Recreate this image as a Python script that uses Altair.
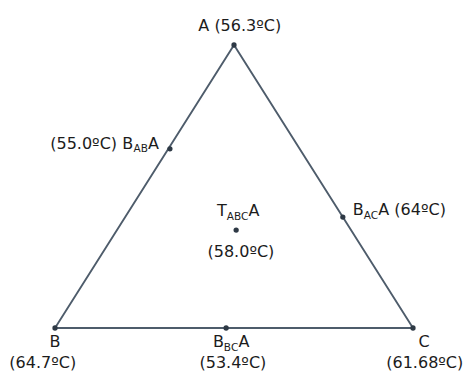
import altair as alt
import pandas as pd

# Diagram points in triangle coordinates: B=(0,0), C=(1,0), A=(0.5,1)
names = ["A", "B", "C", "B_AB", "B_AC", "B_BC", "T_ABC"]
u_pos = [0.5, 0.0, 1.0, 0.321, 0.804, 0.478, 0.506]
v_pos = [1.0, 0.0, 0.0, 0.633, 0.392, 0.0, 0.346]
temps = ["56.3", "64.7", "61.68", "55.0", "64", "53.4", "58.0"]

# Closed outline of the triangle
outline = ["A", "B", "C", "A"]

points = pd.DataFrame({"name": names, "u": u_pos, "v": v_pos, "temp": temps})
pos = points.set_index("name")
edges = pd.DataFrame({
    "order": list(range(len(outline))),
    "u": [pos.loc[n, "u"] for n in outline],
    "v": [pos.loc[n, "v"] for n in outline],
})

FONT = "DejaVu Sans"
MAIN, SUB = 16, 10.5
SUB_DROP = 3.5
TEXT_COLOR = "#1c1c1c"

# Approximate DejaVu Sans advance widths (em units)
ADV = {"A": 0.684, "B": 0.686, "C": 0.698, "T": 0.611, ".": 0.318, " ": 0.318,
       "(": 0.390, ")": 0.390, "º": 0.501}
for d in "0123456789":
    ADV[d] = 0.636


def text_width(s, size):
    return sum(ADV.get(ch, 0.6) for ch in s) * size


def tlabel(name):
    return "(" + pos.loc[name, "temp"] + "ºC)"


# Label lines: (point, anchor dx, baseline dy, align, [(text, is_sub), ...])
label_lines = [
    ("A", 6, -14, "center", [("A " + tlabel("A"), False)]),
    ("B_AB", -11, 0, "right", [(tlabel("B_AB") + " B", False), ("AB", True), ("A", False)]),
    ("T_ABC", 2, -14, "center", [("T", False), ("ABC", True), ("A", False)]),
    ("T_ABC", 5, 27, "center", [(tlabel("T_ABC"), False)]),
    ("B_AC", 10, -2, "left", [("B", False), ("AC", True), ("A " + tlabel("B_AC"), False)]),
    ("B", 0, 19, "center", [("B", False)]),
    ("B", -12, 40, "center", [(tlabel("B"), False)]),
    ("B_BC", 5, 19, "center", [("B", False), ("BC", True), ("A", False)]),
    ("B_BC", 7, 40, "center", [(tlabel("B_BC"), False)]),
    ("C", 11, 19, "center", [("C", False)]),
    ("C", 12, 40, "center", [(tlabel("C"), False)]),
]

x_enc = alt.X("u:Q", scale=alt.Scale(domain=[0, 1], range=[55, 413]), axis=None)
y_enc = alt.Y("v:Q", scale=alt.Scale(domain=[0, 1], range=[328, 45]), axis=None)

triangle = alt.Chart(edges).mark_line(
    color="#4e5c6b", strokeWidth=1.9, strokeJoin="miter"
).encode(x=x_enc, y=y_enc, order="order:Q")

dots = alt.Chart(points).mark_circle(
    size=28, color="#2e3945", opacity=1
).encode(x=x_enc, y=y_enc)

layers = [triangle, dots]
for name, dx0, dy0, align, segs in label_lines:
    sizes = [SUB if sub else MAIN for _, sub in segs]
    widths = [text_width(t, s) for (t, _), s in zip(segs, sizes)]
    total = sum(widths)
    if align == "right":
        start = dx0 - total
    elif align == "center":
        start = dx0 - total / 2
    else:
        start = dx0
    cursor = start
    for (txt, sub), size, w in zip(segs, sizes, widths):
        layers.append(
            alt.Chart(points).transform_filter(
                alt.datum.name == name
            ).mark_text(
                text=txt, align="left", baseline="alphabetic",
                dx=cursor, dy=dy0 + (SUB_DROP if sub else 0),
                font=FONT, fontSize=size, color=TEXT_COLOR,
            ).encode(x=x_enc, y=y_enc)
        )
        cursor += w

chart = alt.layer(*layers).properties(
    width=463, height=372, padding=0, autosize="none"
).configure_view(stroke=None)

chart.save("out.html", embed_options={"renderer": "svg", "actions": False})
